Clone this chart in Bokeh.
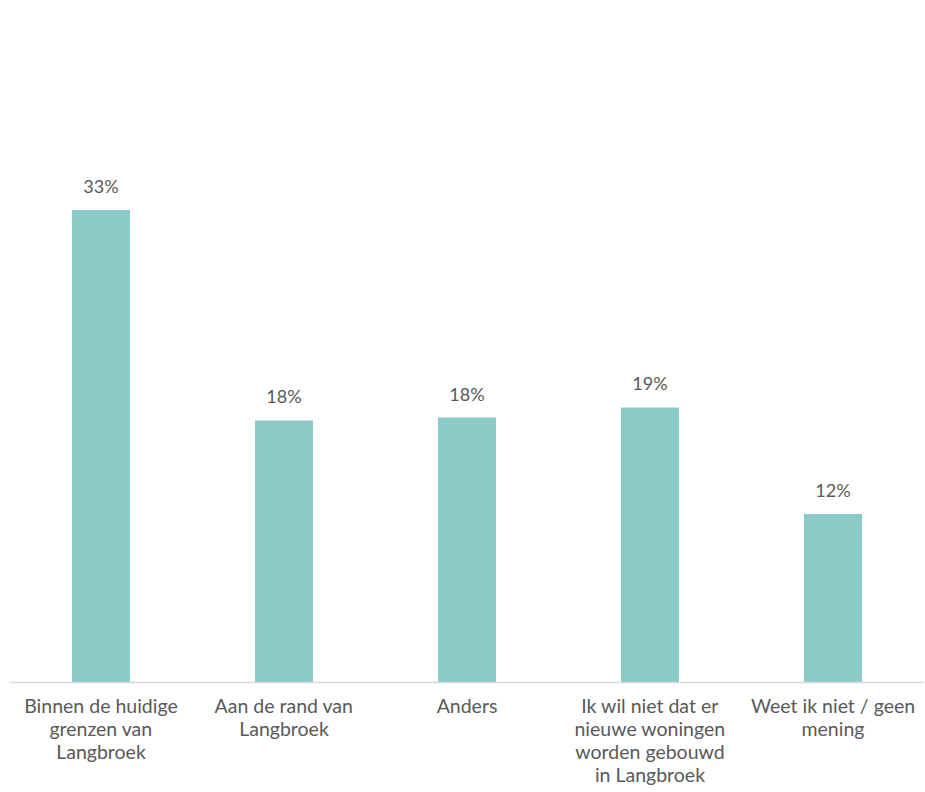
from bokeh.plotting import figure
from bokeh.models import ColumnDataSource, LabelSet
from bokeh.core.properties import value
from bokeh.embed import file_html
from bokeh.resources import INLINE

categories = [
    "Binnen de huidige\ngrenzen van\nLangbroek",
    "Aan de rand van\nLangbroek",
    "Anders",
    "Ik wil niet dat er\nnieuwe woningen\nworden gebouwd\nin Langbroek",
    "Weet ik niet / geen\nmening",
]
values = [32.8, 18.2, 18.4, 19.1, 11.7]
labels = ["33%", "18%", "18%", "19%", "12%"]

src = ColumnDataSource(dict(cat=categories, val=values, lab=labels))

p = figure(x_range=categories, y_range=(0, 46.8), frame_width=915, frame_height=674,
           output_backend="svg", toolbar_location=None,
           min_border_left=9, min_border_right=0, min_border_top=8, min_border_bottom=0)
p.vbar(x="cat", top="val", width=0.317, source=src, color="#8ACBC8", line_color=None)
p.add_layout(LabelSet(x="cat", y="val", text="lab", source=src, text_align="center",
                      text_baseline="bottom", y_offset=13, text_font=value("Lato"),
                      text_font_size="18px", text_color="#595959"))

p.yaxis.visible = False
p.ygrid.visible = False
p.xgrid.visible = False
p.outline_line_color = None
p.xaxis.axis_line_color = "#D9D9D9"
p.xaxis.axis_line_width = 1.5
p.xaxis.major_tick_line_color = None
p.xaxis.minor_tick_line_color = None
p.xaxis.major_label_text_font = "Lato"
p.xaxis.major_label_text_font_size = "19.5px"
p.xaxis.major_label_text_color = "#595959"
p.xaxis.major_label_standoff = 5
p.xaxis.major_label_text_line_height = 1.0

open("out.html", "w").write(file_html(p, INLINE))
